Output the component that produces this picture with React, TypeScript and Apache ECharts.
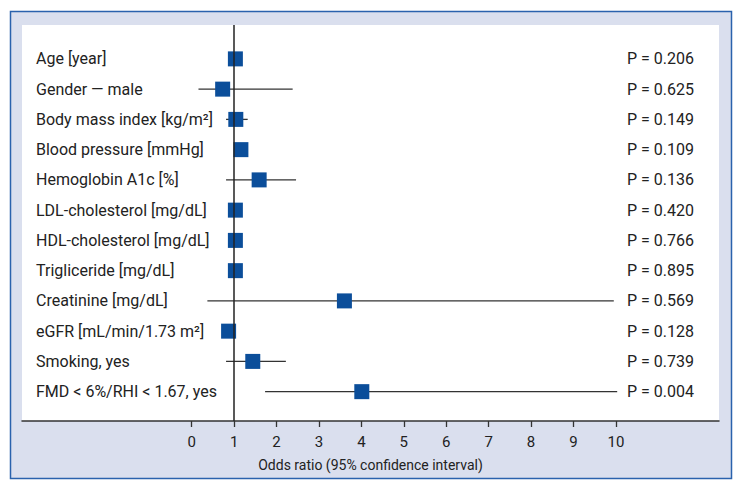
import React, { useEffect, useRef } from "react";
import * as echarts from "echarts";

const variables = [
  "Age [year]",
  "Gender — male",
  "Body mass index [kg/m²]",
  "Blood pressure [mmHg]",
  "Hemoglobin A1c [%]",
  "LDL-cholesterol [mg/dL]",
  "HDL-cholesterol [mg/dL]",
  "Trigliceride [mg/dL]",
  "Creatinine [mg/dL]",
  "eGFR [mL/min/1.73 m²]",
  "Smoking, yes",
  "FMD < 6%/RHI < 1.67, yes",
];
const oddsRatio = [1.03, 0.73, 1.04, 1.16, 1.59, 1.03, 1.03, 1.03, 3.6, 0.87, 1.44, 4.01];
const ciLow = [0.99, 0.16, 0.81, 1.1, 0.81, 0.99, 0.99, 0.99, 0.37, 0.8, 0.81, 1.73];
const ciHigh = [1.06, 2.38, 1.32, 1.22, 2.46, 1.07, 1.07, 1.07, 9.95, 0.95, 2.22, 10.03];
const pValues = ["0.206", "0.625", "0.149", "0.109", "0.136", "0.420", "0.766", "0.895", "0.569", "0.128", "0.739", "0.004"];
const xTicks = [0, 1, 2, 3, 4, 5, 6, 7, 8, 9, 10];

const FONT = "Roboto, 'Liberation Sans', sans-serif";

export default function App() {
  const ref = useRef<HTMLDivElement>(null);
  useEffect(() => {
    document.body.style.margin = "0";
    const chart = echarts.init(ref.current!, null, { renderer: "svg" });
    const rowIdx = variables.map((_, i) => i);
    chart.setOption({
      animation: false,
      backgroundColor: "#ffffff",
      textStyle: { fontFamily: FONT },
      graphic: [
        {
          type: "rect",
          z: -10,
          shape: { x: 10.5, y: 11.5, width: 721, height: 467 },
          style: { fill: "#dadfee", stroke: "#2a62ad", lineWidth: 1.5 },
        },
      ],
      grid: {
        left: 22,
        right: 24,
        top: 25,
        bottom: 70,
        show: true,
        backgroundColor: "#ffffff",
        borderWidth: 0,
      },
      xAxis: {
        type: "value",
        min: -4,
        max: 12.43,
        splitLine: { show: false },
        axisLine: { show: true, onZero: false, lineStyle: { color: "#333", width: 1.5 } },
        axisTick: { show: true, customValues: xTicks, length: 6, lineStyle: { color: "#333", width: 1.3 } },
        axisLabel: { customValues: xTicks, fontSize: 15, color: "#222", margin: 13, fontFamily: FONT },
        name: "Odds ratio (95% confidence interval)",
        nameLocation: "middle",
        nameGap: 37,
        nameTextStyle: { fontSize: 14, color: "#222", fontFamily: FONT },
      },
      yAxis: [
        {
          type: "value",
          inverse: true,
          min: -1.12,
          max: 11.97,
          position: "left",
          splitLine: { show: false },
          axisLine: { show: false, onZero: false },
          axisTick: { show: false },
          axisLabel: {
            inside: true,
            margin: 14,
            customValues: rowIdx,
            formatter: (v: number) => variables[Math.round(v)] ?? "",
            fontSize: 16,
            color: "#222",
            fontFamily: FONT,
            padding: [0, 0, 6, 0],
          },
        },
        {
          type: "value",
          inverse: true,
          min: -1.12,
          max: 11.97,
          position: "right",
          splitLine: { show: false },
          axisLine: { show: false, onZero: false },
          axisTick: { show: false },
          axisLabel: {
            inside: true,
            margin: 25,
            customValues: rowIdx,
            formatter: (v: number) => {
              const p = pValues[Math.round(v)];
              return p ? "P = " + p : "";
            },
            fontSize: 16,
            color: "#222",
            fontFamily: FONT,
            padding: [0, 0, 6, 0],
          },
        },
      ],
      series: [
        {
          type: "custom",
          z: 2,
          data: rowIdx.map((i) => [i, ciLow[i], ciHigh[i]]),
          encode: { x: [1, 2], y: 0 },
          renderItem: (params: any, api: any) => {
            const y = api.value(0);
            const a = api.coord([api.value(1), y]);
            const b = api.coord([api.value(2), y]);
            return {
              type: "line",
              shape: { x1: a[0], y1: a[1], x2: b[0], y2: b[1] },
              style: { stroke: "#333", lineWidth: 1.3 },
            };
          },
          markLine: {
            silent: true,
            symbol: "none",
            label: { show: false },
            lineStyle: { color: "#222", width: 1.5, type: "solid" },
            data: [{ xAxis: 1 }],
          },
        },
        {
          type: "scatter",
          z: 3,
          symbol: "rect",
          symbolSize: 15,
          itemStyle: { color: "#0b4e9a", opacity: 1 },
          data: rowIdx.map((i) => [oddsRatio[i], i]),
        },
      ],
    });
    return () => chart.dispose();
  }, []);
  return <div ref={ref} style={{ width: 743, height: 491 }} />;
}
